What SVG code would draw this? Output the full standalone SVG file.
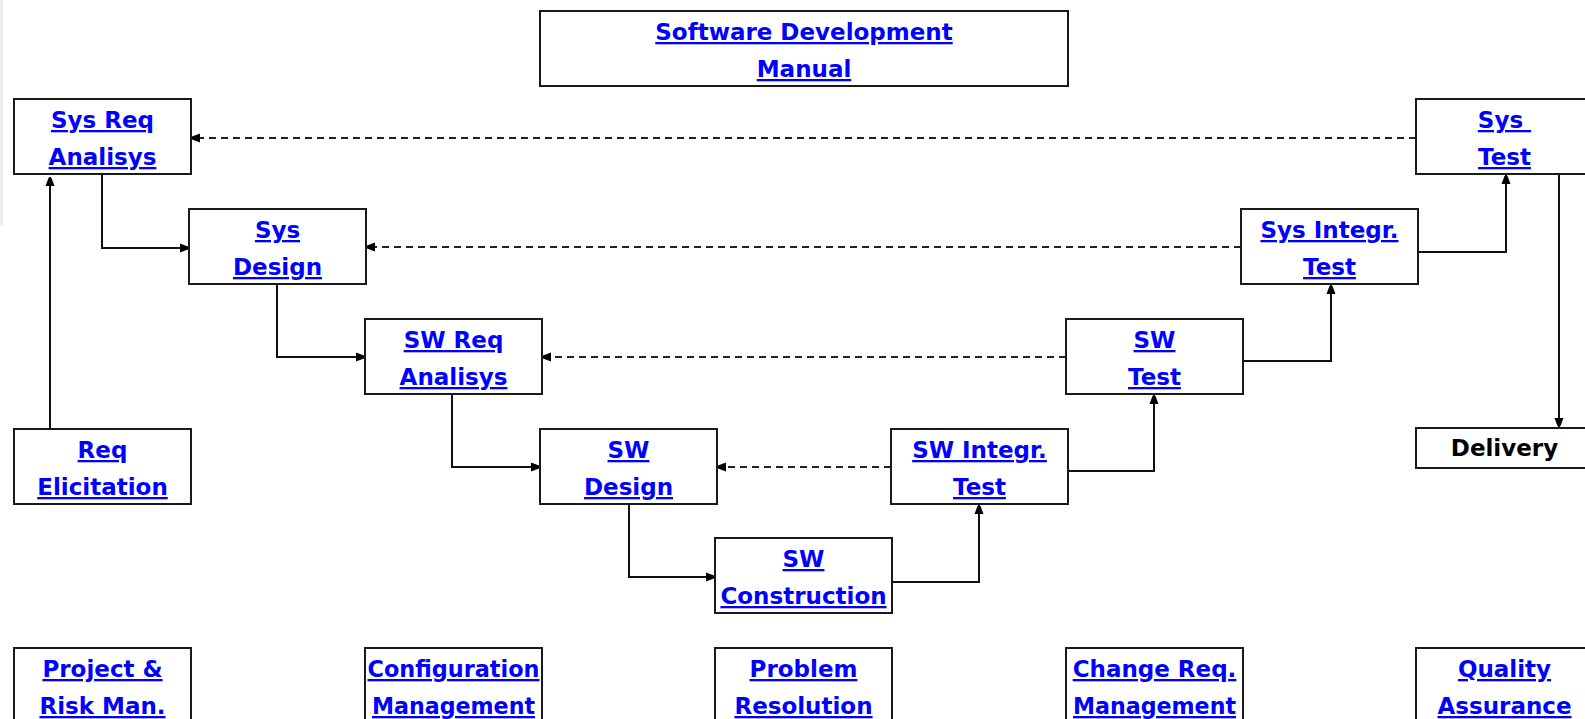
<svg xmlns="http://www.w3.org/2000/svg" width="1585" height="719" viewBox="0 0 1585 719">
<defs>
<style>
.box{fill:#fff;stroke:#1a1a1a;stroke-width:2}
.lnk{font-family:"DejaVu Sans",Verdana,sans-serif;font-weight:bold;font-size:23px;fill:#0000ff;text-decoration:underline;text-anchor:middle}
.plain{font-family:"DejaVu Sans",Verdana,sans-serif;font-weight:bold;font-size:23px;fill:#000;text-anchor:middle}
.c{fill:none;stroke:#111;stroke-width:2;marker-end:url(#ah)}
.d{fill:none;stroke:#222;stroke-width:2;stroke-dasharray:7,5;marker-end:url(#ah)}
</style>
<marker id="ah" markerUnits="userSpaceOnUse" markerWidth="12" markerHeight="12" refX="9" refY="5" orient="auto">
<path d="M0,0.5 L8,3.5 L9,5 L8,6.5 L0,9.5 z" fill="#000"/>
</marker>
</defs>
<rect width="1585" height="719" fill="#fff"/>
<rect x="0" y="0" width="3" height="225" fill="#ececec"/>

<g id="connectors">
<path class="c" d="M50,429 V177"/>
<path class="c" d="M102,174 V248 H189"/>
<path class="c" d="M277,284 V357 H365"/>
<path class="c" d="M452,394 V467 H540"/>
<path class="c" d="M629,504 V577 H715"/>
<path class="c" d="M892,582 H979 V505"/>
<path class="c" d="M1068,471 H1154 V395"/>
<path class="c" d="M1243,361 H1331 V285"/>
<path class="c" d="M1418,252 H1506 V175"/>
<path class="c" d="M1559,174 V427"/>
<path class="d" d="M1416,138 H191"/>
<path class="d" d="M1241,247 H366"/>
<path class="d" d="M1066,357 H542"/>
<path class="d" d="M891,467 H717"/>
</g>

<g id="manual"><rect class="box" x="540" y="11" width="528" height="75"/>
<text class="lnk" x="804" y="40">Software Development</text><text class="lnk" x="804" y="77">Manual</text></g>

<g id="sysreq"><rect class="box" x="14" y="99" width="177" height="75"/>
<text class="lnk" x="102.5" y="128">Sys Req</text><text class="lnk" x="102.5" y="165">Analisys</text></g>

<g id="sysdesign"><rect class="box" x="189" y="209" width="177" height="75"/>
<text class="lnk" x="277.5" y="238">Sys</text><text class="lnk" x="277.5" y="275">Design</text></g>

<g id="swreq"><rect class="box" x="365" y="319" width="177" height="75"/>
<text class="lnk" x="453.5" y="348">SW Req</text><text class="lnk" x="453.5" y="385">Analisys</text></g>

<g id="swdesign"><rect class="box" x="540" y="429" width="177" height="75"/>
<text class="lnk" x="628.5" y="458">SW</text><text class="lnk" x="628.5" y="495">Design</text></g>

<g id="swcons"><rect class="box" x="715" y="538" width="177" height="75"/>
<text class="lnk" x="803.5" y="567">SW</text><text class="lnk" x="803.5" y="604">Construction</text></g>

<g id="swint"><rect class="box" x="891" y="429" width="177" height="75"/>
<text class="lnk" x="979.5" y="458">SW Integr.</text><text class="lnk" x="979.5" y="495">Test</text></g>

<g id="swtest"><rect class="box" x="1066" y="319" width="177" height="75"/>
<text class="lnk" x="1154.5" y="348">SW</text><text class="lnk" x="1154.5" y="385">Test</text></g>

<g id="sysint"><rect class="box" x="1241" y="209" width="177" height="75"/>
<text class="lnk" x="1329.5" y="238">Sys Integr.</text><text class="lnk" x="1329.5" y="275">Test</text></g>

<g id="systest"><rect class="box" x="1416" y="99" width="177" height="75"/>
<text class="lnk" x="1504.5" y="128">Sys&#160;</text><text class="lnk" x="1504.5" y="165">Test</text></g>

<g id="delivery"><rect class="box" x="1416" y="428" width="177" height="40"/>
<text class="plain" x="1504.5" y="456">Delivery</text></g>

<g id="reqelic"><rect class="box" x="14" y="429" width="177" height="75"/>
<text class="lnk" x="102.5" y="458">Req</text><text class="lnk" x="102.5" y="495">Elicitation</text></g>

<g id="projrisk"><rect class="box" x="14" y="648" width="177" height="80"/>
<text class="lnk" x="102.5" y="677">Project &amp;</text><text class="lnk" x="102.5" y="714">Risk Man.</text></g>

<g id="config"><rect class="box" x="365" y="648" width="177" height="80"/>
<text class="lnk" x="453.5" y="677" textLength="172" lengthAdjust="spacingAndGlyphs">Configuration</text><text class="lnk" x="453.5" y="714" textLength="163" lengthAdjust="spacingAndGlyphs">Management</text></g>

<g id="problem"><rect class="box" x="715" y="648" width="177" height="80"/>
<text class="lnk" x="803.5" y="677">Problem</text><text class="lnk" x="803.5" y="714">Resolution</text></g>

<g id="changereq"><rect class="box" x="1066" y="648" width="177" height="80"/>
<text class="lnk" x="1154.5" y="677">Change Req.</text><text class="lnk" x="1154.5" y="714" textLength="163" lengthAdjust="spacingAndGlyphs">Management</text></g>

<g id="quality"><rect class="box" x="1416" y="648" width="177" height="80"/>
<text class="lnk" x="1504.5" y="677">Quality</text><text class="lnk" x="1504.5" y="714">Assurance</text></g>
</svg>
